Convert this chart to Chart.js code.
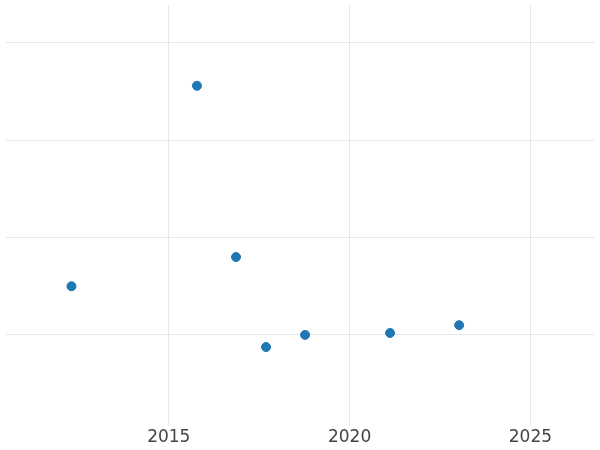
<!DOCTYPE html>
<html>
<head>
<script src="https://cdn.jsdelivr.net/npm/chart.js@4"></script>
<style>
  html, body { margin: 0; padding: 0; background: #fff; }
  #wrap { width: 600px; height: 450px; }
</style>
</head>
<body>
<div id="wrap"><canvas id="c"></canvas></div>
<script>
// Данные (годы и значения)
const years = [2012.31, 2015.78, 2016.86, 2017.69, 2018.77, 2021.12, 2023.03];
const values = [1.5, 3.56, 1.80, 0.875, 1.0, 1.02, 1.10];
const xTicks = [2015, 2020, 2025];
const yTicks = [1, 2, 3, 4];

const points = years.map((x, i) => ({ x: x, y: values[i] }));

new Chart(document.getElementById('c'), {
    type: 'scatter',
    data: {
        datasets: [{
            data: points,
            backgroundColor: '#1f77b4',
            borderColor: '#1f77b4',
            pointRadius: 4.5,
            pointHoverRadius: 4.5
        }]
    },
    options: {
        responsive: true,
        maintainAspectRatio: false,
        animation: false,
        layout: { padding: 0 },
        plugins: { legend: { display: false }, tooltip: { enabled: false } },
        scales: {
            x: {
                type: 'linear',
                min: 2010.485,
                max: 2026.773,
                afterBuildTicks: axis => { axis.ticks = xTicks.map(v => ({ value: v })); },
                ticks: {
                    color: '#444',
                    font: { family: 'DejaVu Sans', size: 17 },
                    padding: 2,
                    callback: v => String(v)
                },
                grid: { color: '#e6e6e6', drawTicks: false },
                border: { display: false }
            },
            y: {
                min: 0.068,
                max: 4.385,
                afterBuildTicks: axis => { axis.ticks = yTicks.map(v => ({ value: v })); },
                ticks: { display: false },
                grid: { color: '#e6e6e6', drawTicks: false },
                border: { display: false }
            }
        }
    }
});
</script>
</body>
</html>
